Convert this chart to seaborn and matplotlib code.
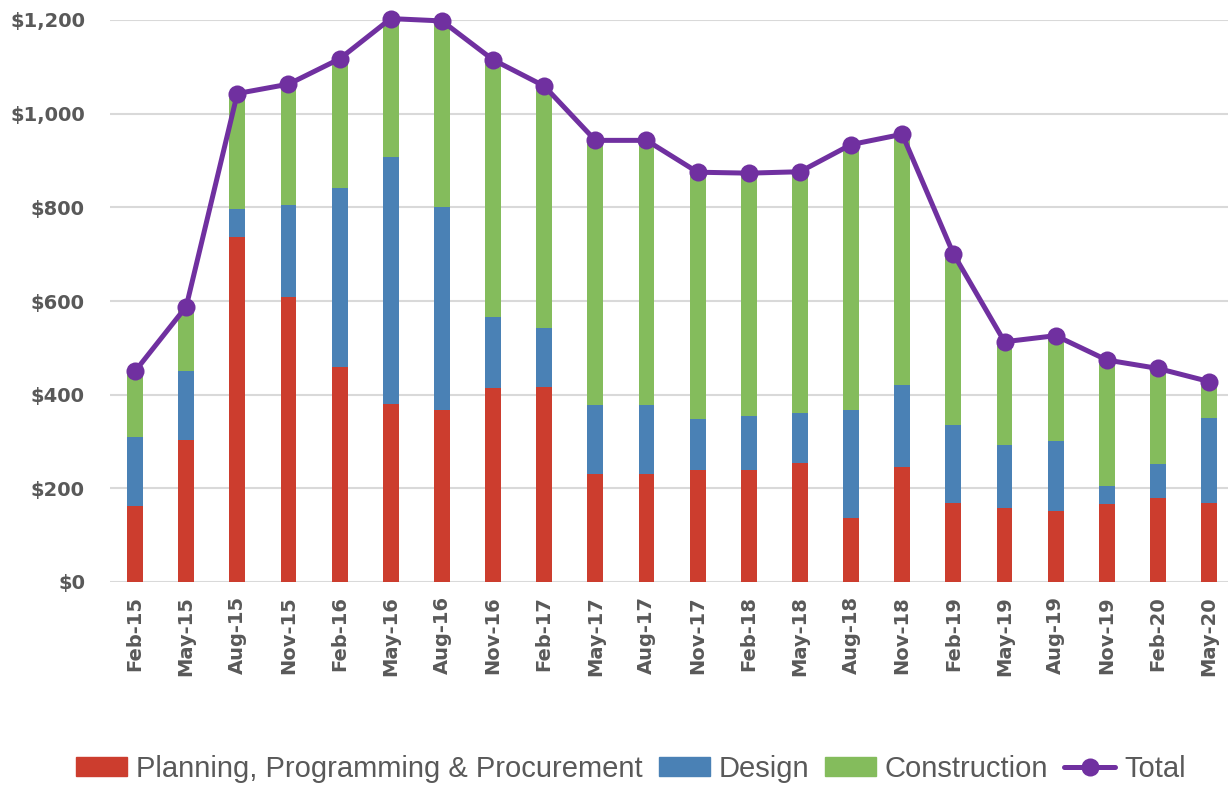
import numpy as np
import pandas as pd
import matplotlib
matplotlib.use("Agg")
import matplotlib.pyplot as plt
from matplotlib.patches import Patch
from matplotlib.lines import Line2D
from matplotlib.ticker import FuncFormatter
import seaborn as sns

# donnees (en $)
quarters = ["Feb-15", "May-15", "Aug-15", "Nov-15", "Feb-16", "May-16", "Aug-16",
            "Nov-16", "Feb-17", "May-17", "Aug-17", "Nov-17", "Feb-18", "May-18",
            "Aug-18", "Nov-18", "Feb-19", "May-19", "Aug-19", "Nov-19", "Feb-20", "May-20"]
planning = [162, 303, 737, 608, 459, 381, 368, 414, 417, 230, 230, 240, 240, 254,
            137, 246, 168, 158, 152, 167, 179, 168]
design = [148, 147, 60, 196, 383, 527, 432, 152, 126, 148, 148, 107, 114, 107,
          231, 174, 167, 135, 150, 38, 74, 183]
construction = [140, 138, 246, 259, 275, 295, 398, 549, 516, 565, 565, 528, 519, 515,
                566, 536, 366, 220, 224, 269, 203, 77]
total = [450, 588, 1043, 1063, 1117, 1203, 1198, 1115, 1059, 943, 943, 875, 873, 876,
         934, 956, 701, 513, 526, 474, 456, 428]

RED, BLUE, GREEN, PURPLE = "#CC3D2E", "#4A81B5", "#84BC5C", "#7030A0"
GREY = "#595959"

df = pd.DataFrame({"q": quarters, "planning": planning, "design": design,
                   "construction": construction, "total": total})
df["c1"] = df["planning"]
df["c2"] = df["c1"] + df["design"]
df["c3"] = df["c2"] + df["construction"]

sns.set_theme(style="white")
plt.rcParams["font.family"] = ["DejaVu Sans"]

fig = plt.figure(figsize=(12.28, 7.85), dpi=100)
ax = fig.add_axes([110 / 1228, 203 / 785, 1118 / 1228, 562 / 785])

# empilement : on dessine les cumuls du plus haut au plus bas
for col, c in [("c3", GREEN), ("c2", BLUE), ("c1", RED)]:
    sns.barplot(data=df, x="q", y=col, color=c, width=0.31, linewidth=0,
                saturation=1, ax=ax, zorder=2)

sns.lineplot(x=np.arange(len(df)), y=df["total"].to_numpy(), color=PURPLE, lw=3.6,
             marker="o", markersize=13, markeredgewidth=0, ax=ax, zorder=4,
             clip_on=False)

ax.set_ylim(0, 1200)
ax.set_xlim(-0.49, 21.37)
ax.set_yticks(range(0, 1201, 200))
ax.yaxis.set_major_formatter(FuncFormatter(lambda v, _: f"${v:,.0f}"))
ax.grid(axis="y", color="#D9D9D9", lw=1.5, zorder=0)
ax.set_axisbelow(True)
for s in ax.spines.values():
    s.set_visible(False)
ax.set_xlabel(""); ax.set_ylabel("")
ax.tick_params(axis="both", length=0, colors=GREY, labelsize=14)
ax.tick_params(axis="y", pad=18)
ax.tick_params(axis="x", pad=10)
plt.setp(ax.get_xticklabels(), rotation=90, fontweight="bold")
plt.setp(ax.get_yticklabels(), fontweight="bold")

handles = [Patch(color=RED, label="Planning, Programming & Procurement"),
           Patch(color=BLUE, label="Design"),
           Patch(color=GREEN, label="Construction"),
           Line2D([], [], color=PURPLE, lw=3.6, marker="o", markersize=13,
                  markeredgewidth=0, label="Total")]
fig.legend(handles=handles, loc="center", bbox_to_anchor=(631 / 1228, 1 - 769 / 785),
           ncol=4, frameon=False, handlelength=1.75, handleheight=0.65,
           handletextpad=0.3, columnspacing=0.55,
           prop={"family": "Liberation Sans", "size": 21}, labelcolor=GREY)

fig.savefig("out.png", dpi=100)
